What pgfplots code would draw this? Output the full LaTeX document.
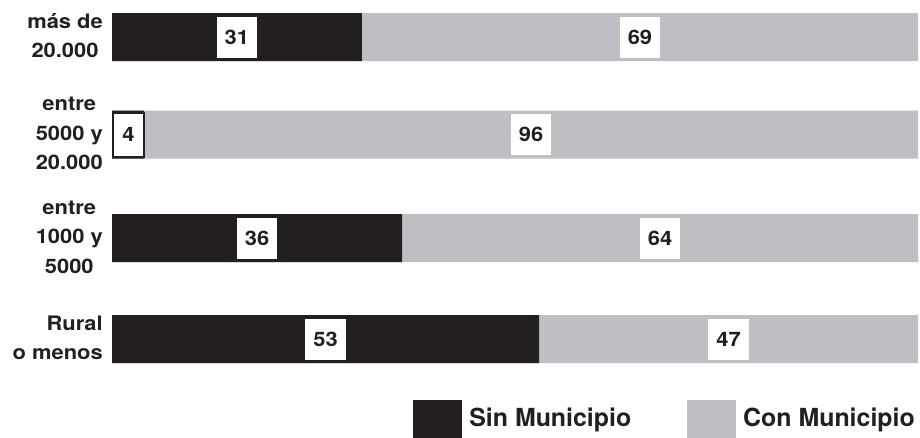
\documentclass[border=0pt]{standalone}
\usepackage{fontspec}
\setmainfont{TeX Gyre Heros}[FakeStretch=1.1]
\newfontfamily\legfont{TeX Gyre Heros}
\usepackage{pgfplots}
\pgfplotsset{compat=1.18}
\definecolor{blk}{HTML}{231F20}
\definecolor{gry}{HTML}{BEBFC3}
\newcommand{\cl}[1]{\begin{tabular}{@{}c@{}}#1\end{tabular}}
\newcommand{\rl}[1]{\begin{tabular}{@{}r@{}}#1\end{tabular}}
\begin{document}
\begin{tikzpicture}
\path[use as bounding box] (0,0) rectangle (920bp,438bp);
\begin{axis}[
  at={(112bp,58bp)}, anchor=south west,
  scale only axis, width=806bp, height=380bp,
  xmin=0, xmax=100, ymin=0, ymax=380, y dir=reverse,
  axis line style={draw=none}, xtick=\empty,
  ytick={37,134.5,238,339},
  yticklabels={{\cl{más de\\20.000}},{\cl{entre\\5000 y\\20.000}},{\cl{entre\\1000 y\\5000}},{\rl{Rural\\o menos}}},
  yticklabel style={font=\fontsize{20}{29.5}\selectfont\bfseries, inner sep=0pt, xshift=-9bp, text=blk},
  major tick length=0pt,
  clip=false,
  legend image code/.code={\fill[#1] (0bp,-22bp) rectangle (49bp,18bp);},
  legend style={draw=none, fill=none, inner sep=0pt, at={(0.9963,-0.0526)}, anchor=north east,
    font=\legfont\fontsize{25}{28}\selectfont\bfseries, text=blk,
    /tikz/nodes={inner sep=0pt},
    legend columns=2,
    /tikz/every even column/.append style={column sep=56bp},
    /tikz/every odd column/.append style={column sep=7bp}},
]
\addplot[xbar, bar width=48, bar shift=0pt, fill=gry, draw=none, forget plot]
  coordinates {(100,37) (100,134.5) (100,238) (100,339)};
\addplot[xbar, bar width=48, bar shift=0pt, fill=blk, draw=none, forget plot]
  coordinates {(31,37) (4,134.5) (36,238) (53,339)};
\addplot[draw=none, mark=none, forget plot, nodes near coords, point meta=explicit symbolic,
  every node near coord/.append style={anchor=center, fill=white, text=blk,
    font=\fontsize{20}{24}\selectfont\bfseries, inner xsep=8bp, inner ysep=0pt,
    minimum height=41bp}]
  coordinates {(15.5,37) [31] (65.5,37) [69] (52,134.5) [96] (18,238) [36] (68,238) [64] (26.5,339) [53] (76.5,339) [47]};
\addplot[draw=none, mark=none, forget plot, nodes near coords, point meta=explicit symbolic,
  every node near coord/.append style={anchor=center, fill=white, draw=blk, line width=2bp, text=blk,
    font=\fontsize{20}{24}\selectfont\bfseries, inner xsep=9bp, inner ysep=0pt,
    minimum height=44bp}]
  coordinates {(2.05,134.5) [4]};
\addlegendimage{fill=blk, draw=none}
\addlegendentry{Sin Municipio}
\addlegendimage{fill=gry, draw=none}
\addlegendentry{Con Municipio}
\end{axis}
\end{tikzpicture}
\end{document}
